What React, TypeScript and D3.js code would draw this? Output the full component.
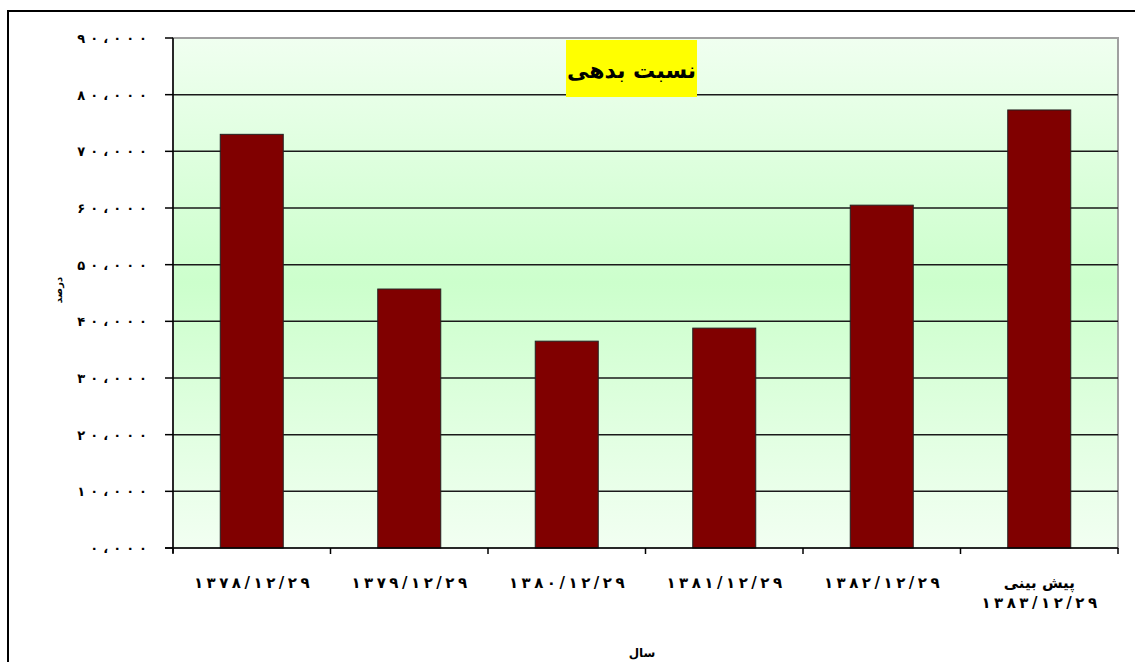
// Debt ratio bar chart (Persian labels)
import React, { useEffect, useRef } from 'react';
import * as d3 from 'd3';

const categories: string[][] = [
  ['۱۳۷۸/۱۲/۲۹'],
  ['۱۳۷۹/۱۲/۲۹'],
  ['۱۳۸۰/۱۲/۲۹'],
  ['۱۳۸۱/۱۲/۲۹'],
  ['۱۳۸۲/۱۲/۲۹'],
  ['پیش بینی', '۱۳۸۳/۱۲/۲۹'],
];
const values: number[] = [73000, 45700, 36500, 38800, 60500, 77300];
const yTicks: number[] = [0, 10000, 20000, 30000, 40000, 50000, 60000, 70000, 80000, 90000];
const yTickLabels: string[] = [
  '۰،۰۰۰', '۱۰،۰۰۰', '۲۰،۰۰۰', '۳۰،۰۰۰', '۴۰،۰۰۰',
  '۵۰،۰۰۰', '۶۰،۰۰۰', '۷۰،۰۰۰', '۸۰،۰۰۰', '۹۰،۰۰۰',
];
const title = 'نسبت بدهی';
const xTitle = 'سال';
const yTitle = 'درصد';

const FONT = '"DejaVu Sans", sans-serif';

// digits are spread out one by one (letter-spacing is ignored for Arabic script)
function spaced(
  sel: d3.Selection<SVGTextElement, unknown, null, undefined>,
  str: string,
  gap: number,
) {
  Array.from(str).forEach((ch, i) => {
    sel.append('tspan').attr('dx', i === 0 ? 0 : gap).text(ch);
  });
}

const App: React.FC = () => {
  const ref = useRef<SVGSVGElement>(null);

  useEffect(() => {
    if (!ref.current) return;
    const svg = d3.select(ref.current);
    svg.selectAll('*').remove();

    const width = 1135;
    const height = 662;
    const margin = { top: 38, right: 17, bottom: 114, left: 173 };
    const plotWidth = width - margin.left - margin.right;
    const plotHeight = height - margin.top - margin.bottom;

    svg.attr('width', width).attr('height', height);

    // outer frame
    svg.append('rect')
      .attr('x', 8).attr('y', 11)
      .attr('width', 1200).attr('height', 1000)
      .attr('fill', 'white')
      .attr('stroke', 'black')
      .attr('stroke-width', 2);

    const defs = svg.append('defs');
    const grad = defs.append('linearGradient')
      .attr('id', 'bg').attr('x1', 0).attr('y1', 0).attr('x2', 0).attr('y2', 1);
    grad.append('stop').attr('offset', '0%').attr('stop-color', '#f0fff0');
    grad.append('stop').attr('offset', '48%').attr('stop-color', '#ccffcc');
    grad.append('stop').attr('offset', '100%').attr('stop-color', '#f2fff2');

    const g = svg.append('g')
      .attr('transform', `translate(${margin.left},${margin.top})`);

    const x = d3.scaleBand<number>()
      .domain(d3.range(categories.length))
      .range([0, plotWidth])
      .paddingInner(0.6)
      .paddingOuter(0.3);
    const step = plotWidth / categories.length;

    const y = d3.scaleLinear().domain([0, 90000]).range([plotHeight, 0]);

    g.append('rect')
      .attr('width', plotWidth).attr('height', plotHeight)
      .attr('fill', 'url(#bg)')
      .attr('stroke', '#a0a0a0')
      .attr('stroke-width', 2);

    // gridlines
    g.selectAll('.grid')
      .data(yTicks.filter(t => t > 0 && t < 90000))
      .join('line')
      .attr('x1', 0).attr('x2', plotWidth)
      .attr('y1', d => y(d)).attr('y2', d => y(d))
      .attr('stroke', '#1a1a1a')
      .attr('stroke-width', 1.5);

    // bars
    g.selectAll('.bar')
      .data(values)
      .join('rect')
      .attr('x', (_, i) => x(i)!)
      .attr('y', d => y(d))
      .attr('width', x.bandwidth())
      .attr('height', d => plotHeight - y(d))
      .attr('fill', '#800000')
      .attr('stroke', '#222')
      .attr('stroke-width', 1);

    // axes lines
    g.append('line')
      .attr('x1', 0).attr('x2', 0).attr('y1', 0).attr('y2', plotHeight + 5)
      .attr('stroke', 'black').attr('stroke-width', 1.5);
    g.append('line')
      .attr('x1', -8).attr('x2', plotWidth).attr('y1', plotHeight).attr('y2', plotHeight)
      .attr('stroke', 'black').attr('stroke-width', 1.5);

    // y ticks
    yTicks.forEach((t, i) => {
      g.append('line')
        .attr('x1', -8).attr('x2', 0).attr('y1', y(t)).attr('y2', y(t))
        .attr('stroke', 'black').attr('stroke-width', 1.5);
      const txt = g.append('text')
        .attr('x', -26)
        .attr('y', y(t) + 5)
        .attr('text-anchor', 'end')
        .style('font-family', FONT)
        .style('font-size', '13px')
        .style('font-weight', 'bold');
      spaced(txt, yTickLabels[i], 5);
    });

    // x ticks
    d3.range(categories.length + 1).forEach(i => {
      g.append('line')
        .attr('x1', i * step).attr('x2', i * step)
        .attr('y1', plotHeight).attr('y2', plotHeight + 6)
        .attr('stroke', 'black').attr('stroke-width', 1.5);
    });

    // x labels
    categories.forEach((lines, i) => {
      const cx = x(i)! + x.bandwidth() / 2;
      lines.forEach((ln, j) => {
        const txt = g.append('text')
          .attr('x', cx)
          .attr('y', plotHeight + 40 + j * 20)
          .attr('text-anchor', 'middle')
          .style('font-family', FONT)
          .style('font-size', '15px')
          .style('font-weight', 'bold');
        if (/^[۰-۹/]+$/.test(ln)) spaced(txt, ln, 3.5);
        else txt.text(ln);
      });
    });

    // title
    g.append('rect')
      .attr('x', 393).attr('y', 2)
      .attr('width', 131).attr('height', 57)
      .attr('fill', '#ffff00');
    g.append('text')
      .attr('x', 458.5)
      .attr('y', 40)
      .attr('text-anchor', 'middle')
      .style('font-family', FONT)
      .style('font-size', '22px')
      .style('font-weight', 'bold')
      .text(title);

    // axis titles
    svg.append('text')
      .attr('x', 642)
      .attr('y', 657)
      .attr('text-anchor', 'middle')
      .style('font-family', FONT)
      .style('font-size', '12px')
      .style('font-weight', 'bold')
      .text(xTitle);
    svg.append('text')
      .attr('transform', 'translate(62,290) rotate(-90)')
      .attr('text-anchor', 'middle')
      .style('font-family', FONT)
      .style('font-size', '10px')
      .style('font-weight', 'bold')
      .text(yTitle);
  }, []);

  return (
    <div style={{ position: 'fixed', left: 0, top: 0 }}>
      <svg ref={ref} style={{ display: 'block' }}></svg>
    </div>
  );
};

export default App;
